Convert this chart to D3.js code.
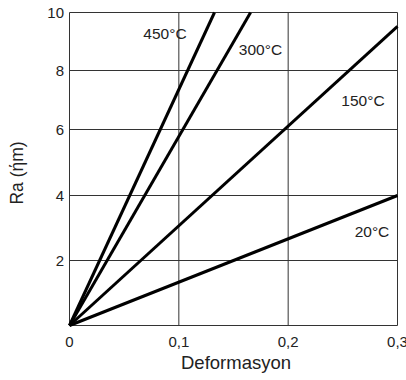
<!DOCTYPE html>
<html>
<head>
<meta charset="utf-8">
<script src="https://cdn.jsdelivr.net/npm/d3@7"></script>
<style>
  body { margin: 0; background: #fff; }
  svg text { font-family: "Liberation Sans", Arial, sans-serif; fill: #222; }
</style>
</head>
<body>
<svg id="chart" width="406" height="380"></svg>
<script>
// chart values
const series = ['450°C', '300°C', '150°C', '20°C'];
// end point of each straight line (all start at 0, 0)
const endX = [0.1326, 0.1656, 0.3, 0.3];
const endY = [10, 10, 9.52, 4];

const xTicks = [0, 0.1, 0.2, 0.3];
const xTickLabels = ['0', '0,1', '0,2', '0,3'];
const yTicks = [0, 2, 4, 6, 8, 10];
const yTickLabels = ['', '2', '4', '6', '8', '10'];

// the original grid is not evenly spaced, so y is piecewise
const yPix = [325.5, 260.5, 195.5, 129.5, 70.5, 12.5];

const svg = d3.select('#chart');

const x = d3.scaleLinear().domain([0, 0.3]).range([69.5, 397.5]);
const y = d3.scaleLinear().domain(yTicks).range(yPix);

const grid = svg.append('g').attr('stroke', '#333').attr('stroke-width', 1);

// vertical grid + frame
grid.selectAll('line.v')
  .data(xTicks)
  .join('line')
  .attr('class', 'v')
  .attr('x1', (d) => x(d)).attr('x2', (d) => x(d))
  .attr('y1', y(0)).attr('y2', y(10));

// horizontal grid + frame
grid.selectAll('line.h')
  .data(yTicks)
  .join('line')
  .attr('class', 'h')
  .attr('x1', x(0)).attr('x2', x(0.3))
  .attr('y1', (d) => y(d)).attr('y2', (d) => y(d));

// x tick labels
svg.append('g')
  .selectAll('text')
  .data(xTicks)
  .join('text')
  .attr('x', (d) => x(d))
  .attr('y', 347)
  .attr('text-anchor', 'middle')
  .attr('font-size', 15)
  .text((d, i) => xTickLabels[i]);

// y tick labels
svg.append('g')
  .selectAll('text')
  .data(yTicks)
  .join('text')
  .attr('x', 64)
  .attr('y', (d) => y(d) + 5.5)
  .attr('text-anchor', 'end')
  .attr('font-size', 15)
  .text((d, i) => yTickLabels[i]);

// axis titles
svg.append('text')
  .attr('x', 236)
  .attr('y', 369)
  .attr('text-anchor', 'middle')
  .attr('font-size', 18.5)
  .text('Deformasyon');

svg.append('text')
  .attr('transform', 'translate(23,173) rotate(-90)')
  .attr('text-anchor', 'middle')
  .attr('font-size', 17.5)
  .text('Ra (ήm)');

// the data lines
const line = d3.line().x((d) => x(d[0])).y((d) => y(d[1]));
const lineData = series.map((s, i) => [[0, 0], [endX[i], endY[i]]]);

svg.append('g')
  .selectAll('path')
  .data(lineData)
  .join('path')
  .attr('d', line)
  .attr('fill', 'none')
  .attr('stroke', '#000')
  .attr('stroke-width', 3);

// series labels
const labelPos = [[165, 38.5], [260.5, 54.5], [363, 105.5], [372, 237]];
svg.append('g')
  .selectAll('text')
  .data(series)
  .join('text')
  .attr('x', (d, i) => labelPos[i][0])
  .attr('y', (d, i) => labelPos[i][1])
  .attr('text-anchor', 'middle')
  .attr('font-size', 15.5)
  .text((d) => d);
</script>
</body>
</html>
